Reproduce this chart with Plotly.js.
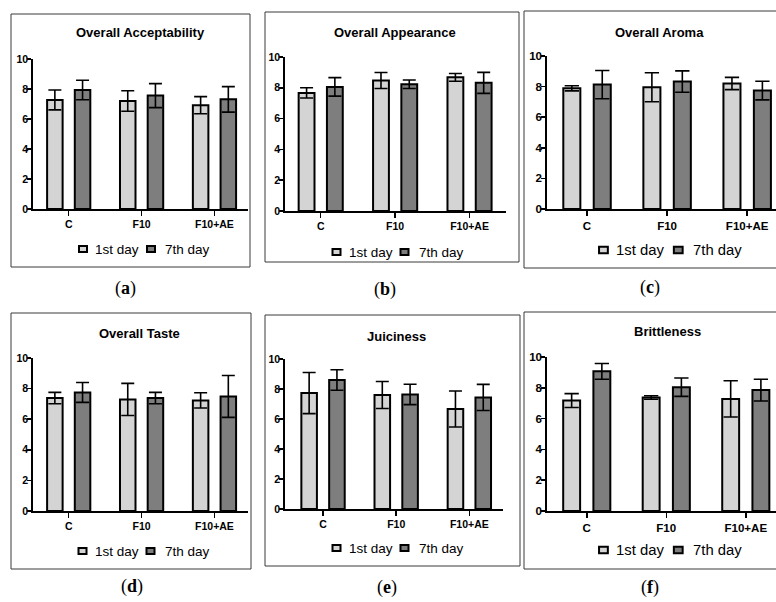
<!DOCTYPE html>
<html><head><meta charset="utf-8">
<script src="https://cdn.plot.ly/plotly-3.0.1.min.js"></script>
<style>html,body{margin:0;padding:0;background:#fff}</style>
</head><body><div id="chart" style="width:776px;height:602px"></div>
<script>
// ---- data ----
const categories = ['C', 'F10', 'F10+AE'];
const seriesNames = ['1st day', '7th day'];
const panelTitles = ['Overall Acceptability', 'Overall Appearance', 'Overall Aroma', 'Overall Taste', 'Juiciness', 'Brittleness'];
const panelLetters = ['a', 'b', 'c', 'd', 'e', 'f'];
const yTickVals = [0, 2, 4, 6, 8, 10];
const yTickText = ['0', '2', '4', '6', '8', '10'];

const acceptabilityDay1 = [7.27, 7.20, 6.92];
const acceptabilityDay1Err = [0.66, 0.68, 0.57];
const acceptabilityDay7 = [7.93, 7.56, 7.31];
const acceptabilityDay7Err = [0.65, 0.80, 0.85];

const appearanceDay1 = [7.67, 8.47, 8.68];
const appearanceDay1Err = [0.33, 0.52, 0.25];
const appearanceDay7 = [8.06, 8.23, 8.32];
const appearanceDay7Err = [0.60, 0.28, 0.68];

const aromaDay1 = [7.89, 7.96, 8.20];
const aromaDay1Err = [0.17, 0.95, 0.40];
const aromaDay7 = [8.13, 8.33, 7.74];
const aromaDay7Err = [0.92, 0.70, 0.61];

const tasteDay1 = [7.38, 7.29, 7.23];
const tasteDay1Err = [0.37, 1.05, 0.50];
const tasteDay7 = [7.75, 7.38, 7.49];
const tasteDay7Err = [0.65, 0.37, 1.37];

const juicinessDay1 = [7.73, 7.60, 6.67];
const juicinessDay1Err = [1.37, 0.90, 1.20];
const juicinessDay7 = [8.60, 7.64, 7.44];
const juicinessDay7Err = [0.68, 0.68, 0.87];

const brittlenessDay1 = [7.17, 7.37, 7.28];
const brittlenessDay1Err = [0.45, 0.11, 1.18];
const brittlenessDay7 = [9.07, 8.04, 7.85];
const brittlenessDay7Err = [0.51, 0.60, 0.71];

const panelData = [
  [acceptabilityDay1, acceptabilityDay1Err, acceptabilityDay7, acceptabilityDay7Err],
  [appearanceDay1, appearanceDay1Err, appearanceDay7, appearanceDay7Err],
  [aromaDay1, aromaDay1Err, aromaDay7, aromaDay7Err],
  [tasteDay1, tasteDay1Err, tasteDay7, tasteDay7Err],
  [juicinessDay1, juicinessDay1Err, juicinessDay7, juicinessDay7Err],
  [brittlenessDay1, brittlenessDay1Err, brittlenessDay7, brittlenessDay7Err]
];

// ---- layout geometry (pixels) ----
const W = 776, H = 602;
const geom = [
  {s:1,   x0:33, x1:248, y0:59, y1:209, xr:[-0.49,2.46], frame:[11,14,250,267], title:[140,33], legend:[143.5,249], label:[125,288]},
  {s:1,   x0:285,x1:506, y0:57, y1:211, xr:[-0.48,2.49], frame:[265,12,519,262], title:[395,32], legend:[397,252], label:[385,290]},
  {s:1.1, x0:547,x1:776, y0:56, y1:209, xr:[-0.50,2.36], frame:[524,11,800,268], title:[659,33], legend:[670,250], label:[650,287]},
  {s:1,   x0:33, x1:248, y0:358,y1:511, xr:[-0.49,2.46], frame:[11,313,251,569], title:[139,333], legend:[143,551], label:[132,586]},
  {s:1,   x0:285,x1:503, y0:359,y1:509, xr:[-0.52,2.46], frame:[265,315,520,566], title:[397,336], legend:[397,548], label:[387,587]},
  {s:1.1, x0:547,x1:776, y0:357,y1:511, xr:[-0.50,2.38], frame:[524,312,800,569], title:[667,332], legend:[670,550], label:[650,587]}
];
const px = v => v / W;
const py = v => 1 - v / H;

const fills = ['#d4d4d4', '#7e7e7e'];
const FONT = 'Liberation Sans, Arial, sans-serif';

const traces = [];
const layout = {
  width: W, height: H,
  margin: {l:0, r:0, t:0, b:0},
  paper_bgcolor: '#fff', plot_bgcolor: 'rgba(0,0,0,0)',
  barmode: 'group', bargap: 0.24, bargroupgap: 0.44,
  showlegend: false,
  font: {family: FONT, color: '#000'},
  shapes: [], annotations: []
};

geom.forEach((g, i) => {
  const n = i + 1;
  const s = g.s;
  const xa = 'xaxis' + (n === 1 ? '' : n), ya = 'yaxis' + (n === 1 ? '' : n);
  const xr = 'x' + (n === 1 ? '' : n), yr = 'y' + (n === 1 ? '' : n);
  const d = panelData[i];
  [0, 1].forEach(k => {
    traces.push({
      type: 'bar', x: categories, y: d[k * 2], name: seriesNames[k],
      xaxis: xr, yaxis: yr,
      marker: {color: fills[k], line: {color: '#000', width: 2}},
      error_y: {type: 'data', array: d[k * 2 + 1], visible: true, color: '#000', thickness: 1.6, width: 6.5 * s}
    });
  });
  const tf = {family: FONT, size: 10.5 * s, weight: 700, color: '#000'};
  layout[xa] = {
    domain: [px(g.x0), px(g.x1)], anchor: yr, type: 'category', range: g.xr,
    tickvals: categories, ticktext: categories.map(c => '<b>' + c + '</b>'),
    showline: true, linecolor: '#000', linewidth: 1.7, ticks: 'outside', ticklen: 5, tickwidth: 1.5, tickcolor: '#000',
    showgrid: false, zeroline: false, fixedrange: true, tickfont: tf
  };
  layout[ya] = {
    domain: [py(g.y1), py(g.y0)], anchor: xr, range: [0, 10],
    tickvals: yTickVals, ticktext: yTickText.map(t => '<b>' + t + '</b>'),
    showline: true, linecolor: '#000', linewidth: 1.7, ticks: 'outside', ticklen: 4, tickwidth: 1.5, tickcolor: '#000',
    ticklabelstandoff: -3,
    showgrid: false, zeroline: false, fixedrange: true, tickfont: tf
  };
  // frame
  layout.shapes.push({
    type: 'rect', xref: 'paper', yref: 'paper',
    x0: px(g.frame[0]), x1: px(g.frame[2]), y0: py(g.frame[3]), y1: py(g.frame[1]),
    line: {color: '#3a3a3a', width: 1}
  });
  // legend (icon + text per series)
  const lc = g.legend[0], ly = g.legend[1];
  const iconX = [-64.5, 3.5], textX = [-50.5, 19.5];
  [0, 1].forEach(k => {
    layout.shapes.push({
      type: 'rect', xref: 'paper', yref: 'paper',
      x0: px(lc + iconX[k] * s), x1: px(lc + (iconX[k] + 8) * s),
      y0: py(ly + 3 * s), y1: py(ly - 3 * s),
      fillcolor: fills[k], line: {color: '#000', width: 2}
    });
    layout.annotations.push({
      xref: 'paper', yref: 'paper', x: px(lc + textX[k] * s), y: py(ly),
      xanchor: 'left', yanchor: 'middle', showarrow: false,
      text: seriesNames[k], font: {family: FONT, size: 13.5 * s, color: '#000'}
    });
  });
  layout.annotations.push({
    xref: 'paper', yref: 'paper', x: px(g.title[0]), y: py(g.title[1]),
    xanchor: 'center', yanchor: 'middle', showarrow: false,
    text: '<b>' + panelTitles[i] + '</b>', font: {family: FONT, size: 13, weight: 700, color: '#000'}
  });
  layout.annotations.push({
    xref: 'paper', yref: 'paper', x: px(g.label[0]), y: py(g.label[1]),
    xanchor: 'center', yanchor: 'middle', showarrow: false,
    text: '(<b>' + panelLetters[i] + '</b>)', font: {family: 'Liberation Serif, serif', size: 18, color: '#000'}
  });
});

Plotly.newPlot('chart', traces, layout, {displayModeBar: false, staticPlot: true});
</script></body></html>
